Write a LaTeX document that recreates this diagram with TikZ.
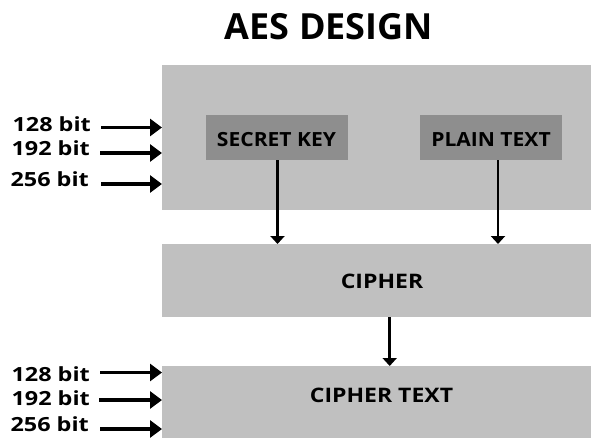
\documentclass[tikz,border=0pt]{standalone}
\usepackage{fontspec}
\setmainfont{Open Sans}
\newfontfamily\sizefont[FakeStretch=1.2]{Open Sans}
\newfontfamily\keyfont[FakeStretch=1.08]{Open Sans}
\newfontfamily\stagefont[FakeStretch=1.15]{Open Sans}
\usetikzlibrary{arrows.meta}
\definecolor{panelgray}{HTML}{C0C0C0}
\definecolor{keygray}{HTML}{8E8E8E}
\begin{document}
\begin{tikzpicture}[x=1pt,y=-1pt,
  panel/.style={fill=panelgray, draw=none, inner sep=0pt, anchor=north west, minimum width=429pt},
  keybox/.style={fill=keygray, draw=none, inner sep=0pt, minimum width=142pt, minimum height=45pt,
    text height=18pt, text depth=0pt, font=\keyfont\bfseries\fontsize{19.5}{21}\selectfont},
  stagelabel/.style={font=\stagefont\bfseries\fontsize{20}{22}\selectfont, inner sep=0pt, anchor=base},
  bitlabel/.style={font=\sizefont\bfseries\fontsize{19.5}{21}\selectfont, inner sep=0pt,
    text depth=0pt, anchor=base east},
  inarrow/.style={line width=3.5pt, -{Triangle[length=12pt, width=17pt]}},
  flow/.style={line width=2.7pt, -{Triangle[length=8pt, width=14pt]}}
]
\useasboundingbox (0,0) rectangle (591,437);

% heading
\node[font=\bfseries\fontsize{36}{40}\selectfont, inner sep=0pt, anchor=base] (title) at (329,39) {AES DESIGN};

% input panel holding the key and the plaintext
\node[panel, minimum height=145pt] (input) at (162,65) {};
\node[keybox] (key) at (276.5,137.5) {SECRET KEY};
\node[keybox] (plain) at (491,137.5) {PLAIN TEXT};

% cipher stage
\node[panel, minimum height=73pt] (cipher) at (162,244) {};
\node[stagelabel] (cipherlabel) at (382,288) {CIPHER};

% output stage
\node[panel, minimum height=72pt] (ctext) at (162,366) {};
\node[stagelabel] (ctextlabel) at (381.5,402.5) {CIPHER TEXT};

% key sizes into the input panel
\node[bitlabel] (a128) at (91,131.7) {128 bit};
\node[bitlabel] (a192) at (90,155.7) {192 bit};
\node[bitlabel] (a256) at (89,186.7) {256 bit};
\coordinate (pa128) at (101,127.5);
\coordinate (pa192) at (100,153);
\coordinate (pa256) at (101,184);
\draw[inarrow] (pa128) -- (pa128 -| input.west);
\draw[inarrow] (pa192) -- (pa192 -| input.west);
\draw[inarrow] (pa256) -- (pa256 -| input.west);

% key sizes into the output stage
\node[bitlabel] (b128) at (90,381) {128 bit};
\node[bitlabel] (b192) at (90,405) {192 bit};
\node[bitlabel] (b256) at (89,431.5) {256 bit};
\coordinate (pb128) at (100,372.5);
\coordinate (pb192) at (99,400);
\coordinate (pb256) at (100,429);
\draw[inarrow] (pb128) -- (pb128 -| ctext.west);
\draw[inarrow] (pb192) -- (pb192 -| ctext.west);
\draw[inarrow] (pb256) -- (pb256 -| ctext.west);

% data flow between the stages
\draw[flow] ([xshift=1pt]key.south) -- ([xshift=1pt]key.south |- cipher.north);
\draw[flow] ([xshift=7pt]plain.south) -- ([xshift=7pt]plain.south |- cipher.north);
\draw[flow] ([xshift=13pt]cipher.south) -- ([xshift=13pt]ctext.north);
\end{tikzpicture}
\end{document}
